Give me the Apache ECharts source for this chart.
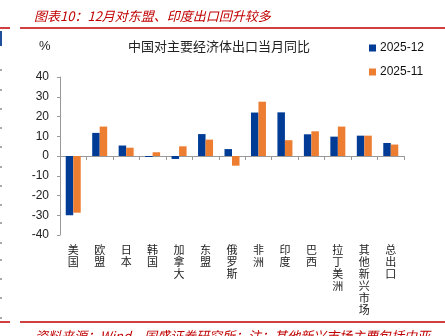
<!DOCTYPE html>
<html><head><meta charset="utf-8">
<script src="https://cdn.jsdelivr.net/npm/echarts@6/dist/echarts.min.js"></script>
<style>html,body{margin:0;padding:0;background:#fff}#c{width:445px;height:336px}</style>
</head><body><div id="c"></div>
<script>
var categories = ['美国','欧盟','日本','韩国','加拿大','东盟','俄罗斯','非洲','印度','巴西','拉丁美洲','其他新兴市场','总出口'];
var dec2025 = [-30.0, 11.7, 5.3, -0.5, -1.5, 11.1, 3.5, 22.0, 22.1, 11.0, 9.8, 10.3, 6.6];
var nov2025 = [-28.7, 14.9, 4.2, 1.9, 4.9, 8.3, -4.9, 27.5, 8.0, 12.5, 14.9, 10.3, 5.8];
var yTicks = [-40, -30, -20, -10, 0, 10, 20, 30, 40];

var chart = echarts.init(document.getElementById('c'), null, {renderer: 'canvas'});
var font = '"Noto Sans CJK SC", sans-serif';
var leftDashes = [];
[70, 90, 109, 128, 147, 167, 186, 205, 223, 243, 260, 279, 298, 318].forEach(function (y) {
  leftDashes.push({type: 'line', shape: {x1: 0, y1: y, x2: 2, y2: y}, style: {stroke: '#555', lineWidth: 1}});
});
var option = {
  animation: false,
  backgroundColor: '#fff',
  title: [
    {text: '图表10：12月对东盟、印度出口回升较多', left: 29, top: 5,
     textStyle: {color: '#C00000', fontSize: 13, fontStyle: 'italic', fontWeight: 'normal', fontFamily: font}},
    {text: '中国对主要经济体出口当月同比', left: 214, top: 35, textAlign: 'center',
     textStyle: {color: '#222', fontSize: 13, fontWeight: 'normal', fontFamily: font}},
    {text: '%', left: 34, top: 35, textStyle: {color: '#222', fontSize: 13, fontWeight: 'normal', fontFamily: 'Liberation Sans'}},
    {text: '资料来源：Wind，国盛证券研究所；注：其他新兴市场主要包括中亚、', left: 30, top: 325,
     textStyle: {color: '#C00000', fontSize: 13, fontStyle: 'italic', fontWeight: 'normal', fontFamily: font}}
  ],
  graphic: [
    {type: 'line', shape: {x1: 20, y1: 28, x2: 445, y2: 28}, style: {stroke: '#C00000', lineWidth: 1.5}},
    {type: 'line', shape: {x1: 0, y1: 28, x2: 10, y2: 28}, style: {stroke: '#C00000', lineWidth: 1.5}},
    {type: 'line', shape: {x1: 20, y1: 322, x2: 445, y2: 322}, style: {stroke: '#C00000', lineWidth: 1.5}},
    {type: 'line', shape: {x1: 0, y1: 322, x2: 10, y2: 322}, style: {stroke: '#C00000', lineWidth: 1.5}},
    {type: 'rect', shape: {x: 0, y: 31, width: 2, height: 15}, style: {fill: '#1F4E9A'}}
  ].concat(leftDashes),
  legend: {
    orient: 'vertical', left: 364, top: 37, itemWidth: 7, itemHeight: 7, itemGap: 12,
    icon: 'rect',
    textStyle: {fontSize: 12, color: '#111', fontFamily: 'Liberation Sans', padding: [0, 0, 0, -1]},
    data: ['2025-12', '2025-11']
  },
  grid: {left: 60, right: 41, top: 77, bottom: 101, containLabel: false},
  xAxis: {
    type: 'category', data: categories,
    axisLine: {onZero: true, lineStyle: {color: '#999', width: 1}},
    axisTick: {show: true, length: 4, lineStyle: {color: '#999'}},
    axisLabel: {
      interval: 0, color: '#222', fontSize: 11, fontFamily: font, lineHeight: 12,
      verticalAlign: 'top', margin: 9,
      formatter: function (v) { return v.split('').join('\n'); }
    },
    position: 'bottom'
  },
  yAxis: {
    type: 'value', min: -40, max: 40, interval: 10,
    axisLine: {show: true, lineStyle: {color: '#999'}},
    axisTick: {show: true, length: 3, lineStyle: {color: '#999'}},
    splitLine: {show: false},
    axisLabel: {color: '#222', fontSize: 12, fontFamily: 'Liberation Sans', margin: 11,
      formatter: function (v) { return yTicks.indexOf(v) >= 0 ? String(v) : ''; }}
  },
  series: [
    {name: '2025-12', type: 'bar', data: dec2025, barWidth: 7.5, barGap: '0%',
     itemStyle: {color: '#003C96'}},
    {name: '2025-11', type: 'bar', data: nov2025, barWidth: 7.5, barGap: '0%',
     itemStyle: {color: '#ED7D31'}}
  ]
};
chart.setOption(option);
</script>
</body></html>
